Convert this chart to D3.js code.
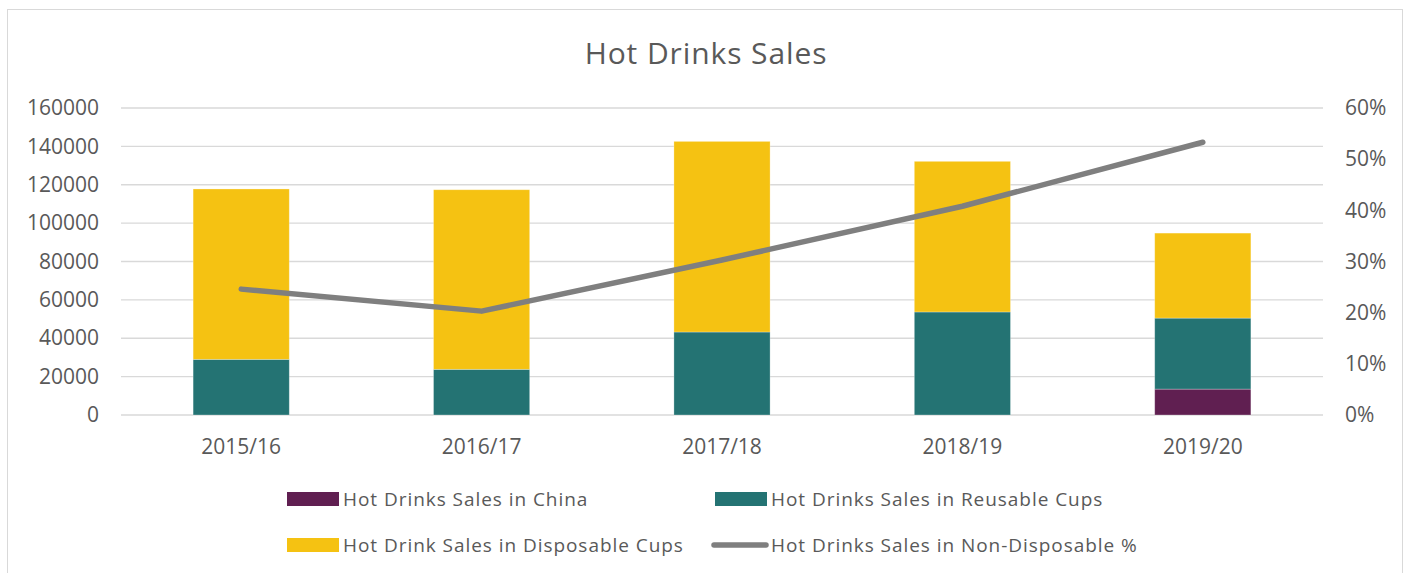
<!DOCTYPE html>
<html>
<head>
<meta charset="utf-8">
<script src="https://cdn.jsdelivr.net/npm/d3@7"></script>
<style>
	body { margin: 0; background: #fff; }
	svg { display: block; font-family: 'Open Sans', sans-serif; }
</style>
</head>
<body>
<svg id="chart" width="1408" height="573"></svg>
<script>
const categories = ['2015/16', '2016/17', '2017/18', '2018/19', '2019/20']
const chinaSales = [0, 0, 0, 0, 13500]
const reusableSales = [29000, 23800, 43250, 53700, 37000]
const disposableSales = [88800, 93600, 99350, 78500, 44300]
const nonDisposablePct = [0.246, 0.203, 0.303, 0.408, 0.533]
const leftTicks = [0, 20000, 40000, 60000, 80000, 100000, 120000, 140000, 160000]
const rightTicks = [0, 0.1, 0.2, 0.3, 0.4, 0.5, 0.6]

const series = [
	{ name: 'Hot Drinks Sales in China', values: chinaSales, color: '#601f51' },
	{ name: 'Hot Drinks Sales in Reusable Cups', values: reusableSales, color: '#247373' },
	{ name: 'Hot Drink Sales in Disposable Cups', values: disposableSales, color: '#f5c212' }
]
const lineName = 'Hot Drinks Sales in Non-Disposable %'
const lineColor = '#7f7f7f'
const textColor = '#595959'

const svg = d3.select('#chart')

// outer chart frame
svg.append('rect')
	.attr('x', 7.5).attr('y', 9.5)
	.attr('width', 1395).attr('height', 600)
	.attr('fill', 'none').attr('stroke', '#d9d9d9')

svg.append('text')
	.attr('x', 706).attr('y', 64)
	.attr('text-anchor', 'middle')
	.attr('font-size', 30)
	.attr('letter-spacing', 0.9)
	.attr('fill', textColor)
	.text('Hot Drinks Sales')

const plot = { left: 121, right: 1323, top: 108, bottom: 415 }

const x = d3.scaleBand()
	.domain(categories)
	.range([plot.left, plot.right])
	.paddingInner(0.6)
	.paddingOuter(0.3)

const y = d3.scaleLinear().domain([0, 160000]).range([plot.bottom, plot.top])
const y2 = d3.scaleLinear().domain([0, 0.6]).range([plot.bottom, plot.top])

// gridlines
svg.append('g')
	.selectAll('line')
	.data(leftTicks)
	.join('line')
	.attr('x1', plot.left).attr('x2', plot.right)
	.attr('y1', d => y(d)).attr('y2', d => y(d))
	.attr('stroke', '#d9d9d9')
	.attr('stroke-width', 1.3)

function styleAxis(g) {
	g.select('.domain').remove()
	g.selectAll('text')
		.attr('font-size', 21)
		.attr('fill', textColor)
		.attr('font-family', 'Open Sans')
}

svg.append('g')
	.attr('transform', `translate(${plot.left - 22},0)`)
	.call(d3.axisLeft(y).tickValues(leftTicks).tickSize(0).tickPadding(0).tickFormat(d3.format('d')))
	.call(styleAxis)

svg.append('g')
	.attr('transform', `translate(${plot.right + 22},0)`)
	.call(d3.axisRight(y2).tickValues(rightTicks).tickSize(0).tickPadding(0).tickFormat(d3.format('.0%')))
	.call(styleAxis)

svg.append('g')
	.attr('transform', `translate(0,${plot.bottom + 24})`)
	.call(d3.axisBottom(x).tickSize(0).tickPadding(0))
	.call(styleAxis)

// stacked bars
const rows = categories.map((c, i) => {
	const row = { category: c }
	series.forEach(s => { row[s.name] = s.values[i] })
	return row
})
const stacked = d3.stack().keys(series.map(s => s.name))(rows)

svg.append('g')
	.selectAll('g')
	.data(stacked)
	.join('g')
	.attr('fill', (d, i) => series[i].color)
	.selectAll('rect')
	.data(d => d.filter(p => p[1] > p[0]))
	.join('rect')
	.attr('x', d => x(d.data.category))
	.attr('width', x.bandwidth())
	.attr('y', d => y(d[1]))
	.attr('height', d => y(d[0]) - y(d[1]))
	.attr('stroke', '#ffffff')
	.attr('stroke-opacity', 0.35)
	.attr('stroke-width', 0.8)

// percentage line
const line = d3.line()
	.x((d, i) => x(categories[i]) + x.bandwidth() / 2)
	.y(d => y2(d))

svg.append('path')
	.datum(nonDisposablePct)
	.attr('d', line)
	.attr('fill', 'none')
	.attr('stroke', lineColor)
	.attr('stroke-width', 5.5)
	.attr('stroke-linecap', 'round')
	.attr('stroke-linejoin', 'round')

// legend
const legendItems = [
	{ name: series[0].name, color: series[0].color, type: 'rect', x: 287, y: 499 },
	{ name: series[1].name, color: series[1].color, type: 'rect', x: 715, y: 499 },
	{ name: series[2].name, color: series[2].color, type: 'rect', x: 287, y: 545 },
	{ name: lineName, color: lineColor, type: 'line', x: 712, y: 545 }
]

const legend = svg.append('g')
	.selectAll('g')
	.data(legendItems)
	.join('g')
	.attr('transform', d => `translate(${d.x},${d.y})`)

legend.filter(d => d.type === 'rect')
	.append('rect')
	.attr('x', 0).attr('y', -7)
	.attr('width', 52).attr('height', 14)
	.attr('fill', d => d.color)

legend.filter(d => d.type === 'line')
	.append('line')
	.attr('x1', 2).attr('x2', 54)
	.attr('y1', 0).attr('y2', 0)
	.attr('stroke', d => d.color)
	.attr('stroke-width', 5.5)
	.attr('stroke-linecap', 'round')

legend.append('text')
	.attr('x', d => d.type === 'rect' ? 56 : 59)
	.attr('y', 0)
	.attr('dy', '0.35em')
	.attr('font-size', 19)
	.attr('letter-spacing', 0.95)
	.attr('fill', textColor)
	.text(d => d.name)
</script>
</body>
</html>
